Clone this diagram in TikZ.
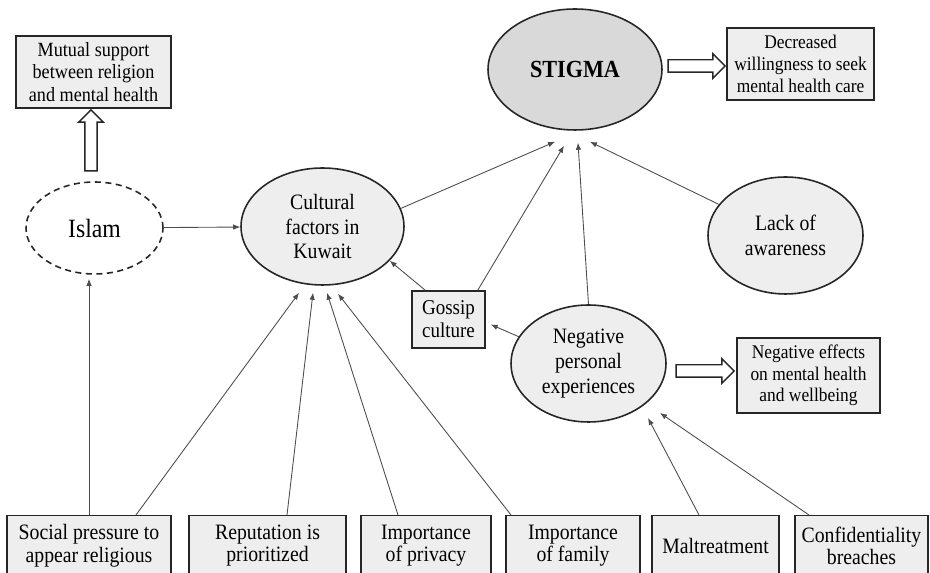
\documentclass[tikz,border=0pt]{standalone}
\usepackage{fontspec}
\setmainfont{Liberation Serif}[FakeStretch=0.9]
\usetikzlibrary{arrows.meta, shapes.geometric, shapes.arrows}
\definecolor{cfill}{HTML}{EEEEEE}
\definecolor{cstig}{HTML}{D9D9D9}
\definecolor{cline}{HTML}{4D4D4D}
\definecolor{cedge}{HTML}{262626}

\begin{document}
\begin{tikzpicture}[
  x=0.02cm, y=-0.02cm,
  oval/.style={
    ellipse, draw=cedge, fill=cfill, line width=0.9pt,
    inner sep=0pt, align=center, font=\rmfamily\fontsize{12.5}{14}\selectfont
  },
  boxed/.style={
    rectangle, draw=cedge, fill=cfill, line width=0.8pt,
    inner sep=0pt, align=center, font=\rmfamily\fontsize{11}{12.4}\selectfont
  },
  factor/.style={boxed, anchor=north, minimum height=1.2cm,
    font=\rmfamily\fontsize{12.5}{12.6}\selectfont},
  arr/.style={-{Latex[length=1.4mm, width=1.1mm]}, draw=cline, line width=0.5pt},
  hollow/.style={
    single arrow, draw=cedge, fill=white, line width=0.8pt,
    inner xsep=0pt, inner ysep=0.11cm, minimum width=0pt,
    single arrow head extend=0.12cm, single arrow head indent=0pt
  }
]
\useasboundingbox (0,0) rectangle (930,573);
\clip (0,0) rectangle (930,573);

% ============================================================
% Top: stigma and its outcome, Islam and its outcome.
\node[oval, fill=cstig, minimum width=3.48cm, minimum height=2.42cm,
  font=\rmfamily\fontsize{14}{15}\selectfont\bfseries] (stigma) at (575,69.5) {STIGMA};
\node[boxed, minimum width=2.94cm, minimum height=1.44cm] (decr) at (800.5,64)
  {Decreased\\willingness to seek\\mental health care};
\node[hollow, minimum height=1.14cm] (rstigma) at (693.5,66) {};

\node[boxed, minimum width=3.1cm, minimum height=1.44cm,
  font=\rmfamily\fontsize{11.5}{12.6}\selectfont] (mutual) at (93.5,72)
  {Mutual support\\between religion\\and mental health};
\node[oval, fill=white, dash pattern=on 3.5pt off 2.5pt, minimum width=2.74cm,
  minimum height=1.84cm, font=\rmfamily\fontsize{15}{16}\selectfont] (islam) at (94.5,228) {Islam};
\node[hollow, minimum height=1.22cm, rotate=90] (upislam) at (91,143.5) {};

% ============================================================
% Middle: the factors feeding into stigma.
\node[oval, minimum width=3.26cm, minimum height=2.34cm] (cult) at (322.5,226.5)
  {Cultural\\factors in\\Kuwait};
\node[oval, minimum width=3.1cm, minimum height=2.34cm] (lack) at (785.5,235.5)
  {Lack of\\awareness};
\node[boxed, minimum width=1.46cm, minimum height=1.14cm,
  font=\rmfamily\fontsize{12}{13}\selectfont] (gossip) at (448.5,319.5) {Gossip\\culture};
\node[oval, minimum width=3.1cm, minimum height=2.34cm] (negp) at (588.5,363.5)
  {Negative\\personal\\experiences};
\node[boxed, minimum width=2.86cm, minimum height=1.5cm] (negeff) at (808.5,375.5)
  {Negative effects\\on mental health\\and wellbeing};
\node[hollow, minimum height=1.16cm] (rnegp) at (702,371) {};

% ============================================================
% Bottom row of factors (cut off by the lower edge).
\node[factor, minimum width=3.28cm] (soc) at (89,515) {Social pressure to\\appear religious};
\node[factor, minimum width=3.14cm] (rep) at (267.5,515) {Reputation is\\prioritized};
\node[factor, minimum width=2.6cm] (priv) at (426,515) {Importance\\of privacy};
\node[factor, minimum width=2.68cm] (fam) at (573,515) {Importance\\of family};
\node[factor, minimum width=2.54cm] (malt) at (715.5,515) {Maltreatment};
\node[factor, minimum width=2.66cm] (conf) at (861.5,515) {Confidentiality\\breaches};

% ============================================================
% Connectors
\draw[arr] (islam) -- (cult);
\draw[arr] (cult.13) -- ([shift={(-20,11)}]stigma.south);
\draw[arr] ([xshift=-0.16cm]gossip.north east) -- ([shift={(-11,15)}]stigma.south);
\draw[arr] (negp.north) -- ([shift={(3,12)}]stigma.south);
\draw[arr] (lack.155) -- ([shift={(15,11)}]stigma.south);
\draw[arr] ([xshift=0.28cm]gossip.north west) -- (cult.-27);
\draw[arr] (negp.159) -- ([shift={(5,5)}]gossip.east);

% bottom row into Islam, culture and experiences
\draw[arr, shorten >=0.08cm] (soc.north) -- (soc.north |- islam.south);
\draw[arr] ([xshift=0.94cm]soc.north) -- ([shift={(-23.5,7)}]cult.south);
\draw[arr] ([xshift=0.39cm]rep.north) -- ([shift={(-9.5,7)}]cult.south);
\draw[arr] ([xshift=-0.56cm]priv.north) -- ([shift={(4.5,7)}]cult.south);
\draw[arr] ([xshift=-1.24cm]fam.north) -- ([shift={(15.5,8)}]cult.south);
\draw[arr] ([xshift=-0.33cm]malt.north) -- ([shift={(59.5,54.5)}]negp.center);
\draw[arr] ([xshift=-1.05cm]conf.north) -- ([shift={(71.5,49.5)}]negp.center);

\end{tikzpicture}
\end{document}
